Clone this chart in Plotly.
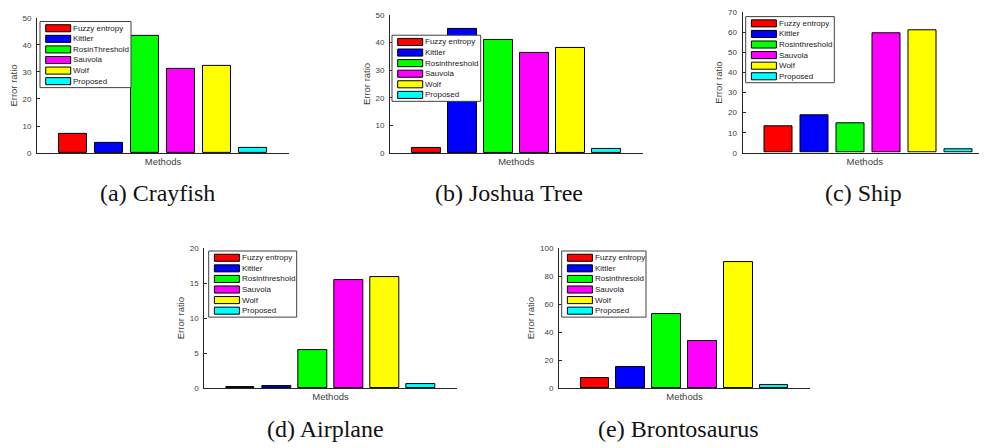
import plotly.graph_objects as go

# ---------------- data ----------------
methods = ["Fuzzy entropy", "Kittler", "Rosinthreshold", "Sauvola", "Wolf", "Proposed"]
bar_colors = ["#ff0000", "#0000ff", "#00ff00", "#ff00ff", "#ffff00", "#00ffff"]

crayfish = [7.2, 3.6, 43.5, 31.0, 32.1, 1.9]
joshua_tree = [2.0, 45.0, 40.9, 36.4, 38.2, 1.6]
ship = [13.0, 18.9, 14.7, 59.3, 60.9, 1.9]
airplane = [0.2, 0.25, 5.4, 15.5, 15.9, 0.55]
brontosaurus = [7.2, 15.2, 52.9, 33.8, 90.2, 2.1]

legend_a = ["Fuzzy entropy", "Kittler", "RosinThreshold", "Sauvola", "Wolf", "Proposed"]
legend_b = ["Fuzzy entropy", "Kittler", "Rosinthreshold", "Sauvola", "Wolf", "Proposed"]
legend_c = ["Fuzzy entropy", "Kittler", "Rosinthreshold", "Sauvola", "Wolf", "Proposed"]
legend_d = ["Fuzzy entropy", "Kittler", "Rosinthreshold", "Sauvola", "Wolf", "Proposed"]
legend_e = ["Fuzzy entropy", "Kittler", "Rosinthresold", "Sauvola", "Wolf", "Proposed"]

captions = ["(a) Crayfish", "(b) Joshua Tree", "(c) Ship", "(d) Airplane", "(e) Brontosaurus"]
y_max = [50, 50, 70, 20, 100]
y_dtick = [10, 10, 10, 5, 20]
x_label = "Methods"
y_label = "Error ratio"

# ---------------- layout geometry (reference pixels) ----------------
OFF = 8  # page body margin
W, H = 987 - OFF, 448 - OFF
panels = [
    dict(vals=crayfish, leg=legend_a, ax=(37, 289, 14, 152), xr=7.0, lg=(40, 17.7, 91), cap=(157.5, 193)),
    dict(vals=joshua_tree, leg=legend_b, ax=(390, 642.7, 11, 152), xr=7.0, lg=(392, 31.7, 88.7), cap=(509, 193)),
    dict(vals=ship, leg=legend_c, ax=(742.5, 987, 8.3, 151.7), xr=(987 - 742.5) / 36.0, lg=(745.7, 12.7, 88.6), cap=(863, 193)),
    dict(vals=airplane, leg=legend_d, ax=(204.3, 456.7, 249, 392), xr=7.0, lg=(208.7, 252, 88), cap=(325, 434)),
    dict(vals=brontosaurus, leg=legend_e, ax=(559, 810, 249, 392), xr=7.0, lg=(561.7, 252, 84.3), cap=(678, 434)),
]


def px(x):
    return min(max((x - OFF) / W, 0.0), 1.0)


def py(y):
    return min(max(1 - (y - OFF) / H, 0.0), 1.0)


AXC = "#262626"
TICKC = "#404040"
SANS = "Liberation Sans, Arial, sans-serif"
SERIF = "Liberation Serif, Times New Roman, serif"

fig = go.Figure()
shapes = []
annotations = []
layout_axes = {}

for k, p in enumerate(panels):
    n = "" if k == 0 else str(k + 1)
    xa, ya = "x" + n, "y" + n
    for i, (m, c, v) in enumerate(zip(methods, bar_colors, p["vals"])):
        fig.add_trace(go.Bar(
            x=[i + 1], y=[v], name=m, width=0.8, xaxis=xa, yaxis=ya,
            marker=dict(color=c, line=dict(color="#000000", width=1)),
            showlegend=False, hoverinfo="y+name",
        ))
    x0, x1, yt, yb = p["ax"]
    layout_axes["xaxis" + n] = dict(
        domain=[px(x0), px(x1)], anchor=ya, range=[0, p["xr"]],
        showline=True, linecolor=AXC, linewidth=1, ticks="", showticklabels=False,
        showgrid=False, zeroline=False, fixedrange=True,
        title=dict(text=x_label, font=dict(family=SANS, size=9.5, color=TICKC), standoff=5),
    )
    layout_axes["yaxis" + n] = dict(
        domain=[py(yb), py(yt)], anchor=xa, range=[0, y_max[k]], dtick=y_dtick[k],
        showline=True, linecolor=AXC, linewidth=1, ticks="inside", ticklen=3,
        tickcolor=AXC, tickwidth=1, tickfont=dict(family=SANS, size=8, color=TICKC),
        ticklabelstandoff=3,
        showgrid=False, zeroline=False, fixedrange=True,
        title=dict(text=y_label, font=dict(family=SANS, size=9.5, color=TICKC), standoff=3),
    )
    # legend box
    lx, ly, lw = p["lg"]
    lh = 67.5
    shapes.append(dict(type="rect", xref="paper", yref="paper", layer="above",
                       x0=px(lx), x1=px(lx + lw), y0=py(ly + lh), y1=py(ly),
                       fillcolor="#ffffff", line=dict(color="#404040", width=1)))
    for i, (lab, c) in enumerate(zip(p["leg"], bar_colors)):
        cy = ly + 6.9 + i * 10.8
        shapes.append(dict(type="rect", xref="paper", yref="paper", layer="above",
                           x0=px(lx + 5.7), x1=px(lx + 30.7), y0=py(cy + 3.6), y1=py(cy - 3.6),
                           fillcolor=c, line=dict(color="#000000", width=1)))
        annotations.append(dict(text=lab, xref="paper", yref="paper", x=px(lx + 31.0), y=py(cy),
                                xanchor="left", yanchor="middle", showarrow=False,
                                font=dict(family=SANS, size=8, color="#1a1a1a")))
    cx, cyc = p["cap"]
    annotations.append(dict(text=captions[k], xref="paper", yref="paper", x=px(cx), y=py(cyc),
                            xanchor="center", yanchor="middle", showarrow=False,
                            font=dict(family=SERIF, size=24, color="#111111")))

fig.update_layout(
    width=W, height=H, margin=dict(l=0, r=0, t=0, b=0),
    paper_bgcolor="#ffffff", plot_bgcolor="#ffffff",
    barmode="overlay", bargap=0, showlegend=False,
    shapes=shapes, annotations=annotations, **layout_axes,
)

fig.write_html("out.html")
